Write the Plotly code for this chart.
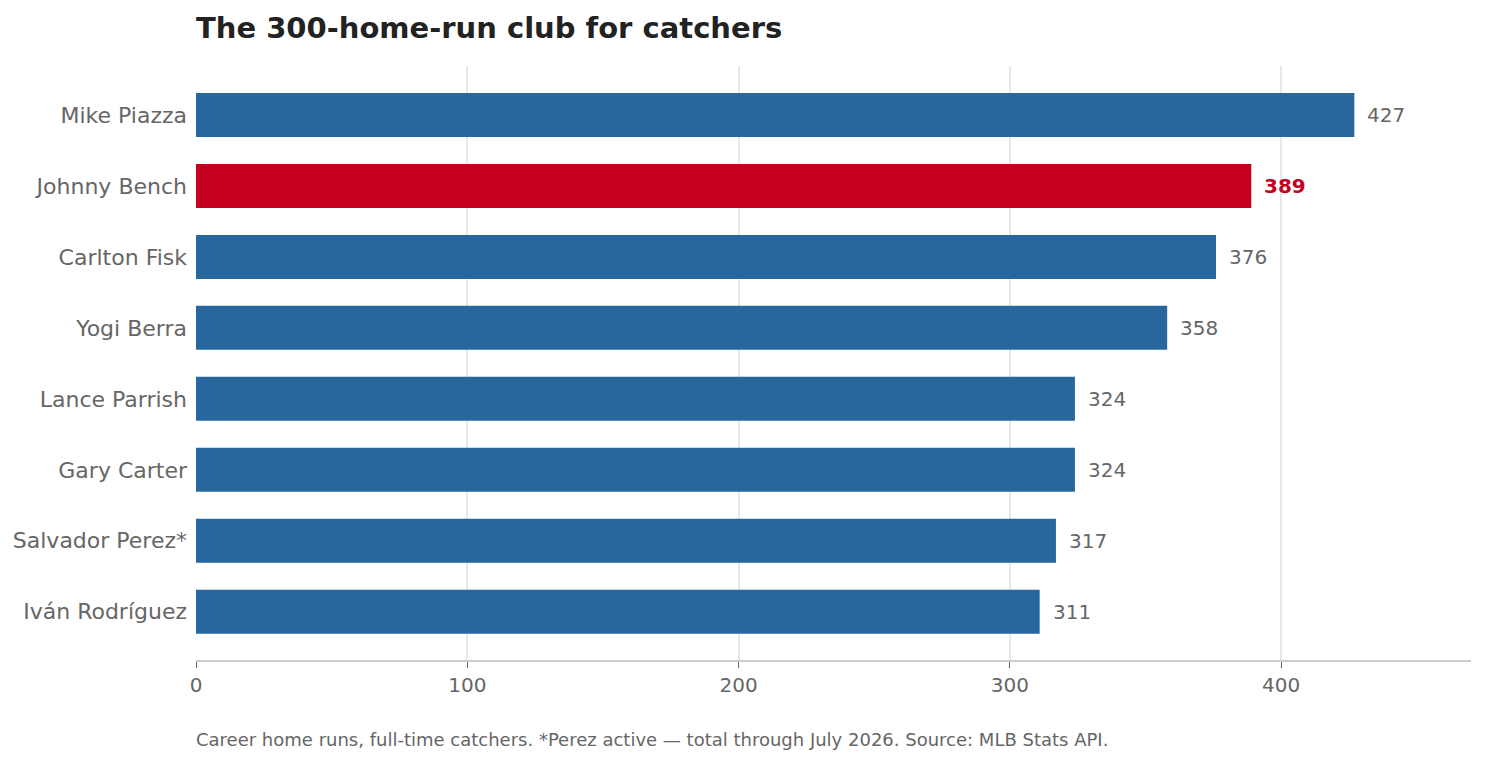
import plotly.graph_objects as go

# datos
jugadores = ["Mike Piazza", "Johnny Bench", "Carlton Fisk", "Yogi Berra",
             "Lance Parrish", "Gary Carter", "Salvador Perez*", "Iván Rodríguez"]
jonrones = [427, 389, 376, 358, 324, 324, 317, 311]
destacado = "Johnny Bench"

azul = "#27679e"
rojo = "#c5001f"

colores = [rojo if j == destacado else azul for j in jugadores]

fig = go.Figure(go.Bar(
    x=jonrones,
    y=jugadores,
    orientation="h",
    marker=dict(color=colores, line=dict(width=0)),
    width=0.62,
    hoverinfo="x+y",
))

# etiquetas de valor al final de cada barra
for j, v in zip(jugadores, jonrones):
    if j == destacado:
        txt, col = "<b>%d</b>" % v, rojo
    else:
        txt, col = str(v), "#666666"
    fig.add_annotation(x=v, y=j, text=txt, showarrow=False,
                       xanchor="left", yanchor="middle", xshift=11,
                       font=dict(family="DejaVu Sans", size=20, color=col))

fig.update_layout(
    width=1485, height=764,
    paper_bgcolor="white", plot_bgcolor="white",
    font=dict(family="DejaVu Sans", color="#666666"),
    margin=dict(l=188, r=22, t=58, b=112),
    title=dict(text="<b>The 300-home-run club for catchers</b>",
               x=0, xref="paper", y=0.974, yref="container", yanchor="middle",
               font=dict(size=29, color="#222222")),
    showlegend=False,
)

fig.update_xaxes(
    range=[0, 470],
    tickvals=[0, 100, 200, 300, 400],
    showgrid=True, gridcolor="#e8e8e8", gridwidth=1.5,
    showline=True, linecolor="#cccccc", linewidth=2,
    ticks="outside", ticklen=6, tickcolor="#666666",
    tickfont=dict(size=20, color="#666666"),
    zeroline=False, automargin=False,
)
fig.update_yaxes(
    categoryorder="array", categoryarray=jugadores[::-1],
    range=[-0.68, 7.69],
    showgrid=False, showline=False, ticks="",
    ticklabelstandoff=8, automargin=False,
    tickfont=dict(size=22, color="#666666"),
)

fig.add_annotation(
    text="Career home runs, full-time catchers. *Perez active — total through July 2026. Source: MLB Stats API.",
    xref="paper", yref="paper", x=0, y=-0.133, xanchor="left", yanchor="middle",
    xshift=-2, showarrow=False, font=dict(size=18, color="#666666"),
)

fig.write_html("out.html")
